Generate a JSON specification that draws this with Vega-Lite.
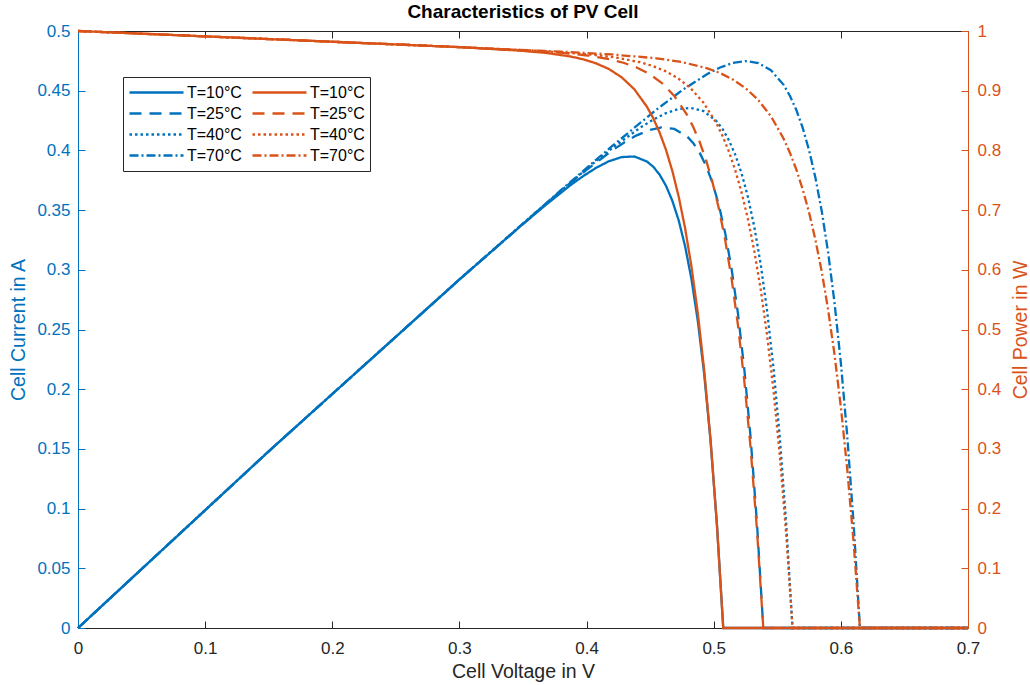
{
  "$schema": "https://vega.github.io/schema/vega-lite/v6.json",
  "width": 890,
  "height": 597,
  "autosize": {"type": "none"},
  "padding": {"left": 78, "top": 31, "right": 62, "bottom": 57},
  "background": "white",
  "title": {"text": "Characteristics of PV Cell", "fontSize": 19, "fontWeight": "bold", "font": "Liberation Sans", "color": "#000000", "anchor": "middle", "offset": 0},
  "config": {
    "view": {"stroke": null},
    "font": "Liberation Sans",
    "axis": {"grid": false, "labelFontSize": 17, "titleFontSize": 19.5, "titleFontWeight": "normal", "tickSize": -7, "tickWidth": 1, "domainWidth": 1, "labelFlush": false, "labelOverlap": false, "labelFont": "Liberation Sans", "titleFont": "Liberation Sans"}
  },
  "datasets": {
    "pw": [
      {"v":0,"y":0,"s":"a10"},{"v":0.15,"y":0.148,"s":"a10"},{"v":0.3,"y":0.2919,"s":"a10"},{"v":0.3475,"y":0.3361,"s":"a10"},{"v":0.3675,"y":0.354,"s":"a10"},{"v":0.3875,"y":0.371,"s":"a10"},{"v":0.3975,"y":0.3786,"s":"a10"},{"v":0.4075,"y":0.3854,"s":"a10"},{"v":0.4175,"y":0.3909,"s":"a10"},{"v":0.4275,"y":0.3944,"s":"a10"},{"v":0.4375,"y":0.3949,"s":"a10"},{"v":0.4475,"y":0.3907,"s":"a10"},{"v":0.4525,"y":0.3863,"s":"a10"},{"v":0.4575,"y":0.3796,"s":"a10"},{"v":0.4625,"y":0.3703,"s":"a10"},{"v":0.4675,"y":0.3577,"s":"a10"},{"v":0.4725,"y":0.3412,"s":"a10"},{"v":0.4775,"y":0.3197,"s":"a10"},{"v":0.4825,"y":0.2922,"s":"a10"},{"v":0.4875,"y":0.2571,"s":"a10"},{"v":0.4925,"y":0.2128,"s":"a10"},{"v":0.4975,"y":0.157,"s":"a10"},{"v":0.5025,"y":0.0872,"s":"a10"},{"v":0.5075,"y":0,"s":"a10"},{"v":0.7,"y":0,"s":"a10"},
      {"v":0,"y":0,"s":"a25"},{"v":0.15,"y":0.148,"s":"a25"},{"v":0.3,"y":0.2919,"s":"a25"},{"v":0.379,"y":0.3652,"s":"a25"},{"v":0.399,"y":0.3828,"s":"a25"},{"v":0.419,"y":0.3991,"s":"a25"},{"v":0.429,"y":0.4062,"s":"a25"},{"v":0.439,"y":0.4124,"s":"a25"},{"v":0.449,"y":0.4169,"s":"a25"},{"v":0.459,"y":0.4192,"s":"a25"},{"v":0.469,"y":0.418,"s":"a25"},{"v":0.479,"y":0.4118,"s":"a25"},{"v":0.484,"y":0.406,"s":"a25"},{"v":0.489,"y":0.3979,"s":"a25"},{"v":0.494,"y":0.3871,"s":"a25"},{"v":0.499,"y":0.3729,"s":"a25"},{"v":0.504,"y":0.3544,"s":"a25"},{"v":0.509,"y":0.3309,"s":"a25"},{"v":0.514,"y":0.3012,"s":"a25"},{"v":0.519,"y":0.2639,"s":"a25"},{"v":0.524,"y":0.2174,"s":"a25"},{"v":0.529,"y":0.1597,"s":"a25"},{"v":0.534,"y":0.0882,"s":"a25"},{"v":0.539,"y":0,"s":"a25"},{"v":0.7,"y":0,"s":"a25"},
      {"v":0,"y":0,"s":"a40"},{"v":0.15,"y":0.148,"s":"a40"},{"v":0.3,"y":0.2919,"s":"a40"},{"v":0.36,"y":0.3481,"s":"a40"},{"v":0.402,"y":0.3863,"s":"a40"},{"v":0.422,"y":0.4034,"s":"a40"},{"v":0.442,"y":0.4189,"s":"a40"},{"v":0.452,"y":0.4255,"s":"a40"},{"v":0.462,"y":0.431,"s":"a40"},{"v":0.472,"y":0.4346,"s":"a40"},{"v":0.482,"y":0.4356,"s":"a40"},{"v":0.492,"y":0.4329,"s":"a40"},{"v":0.502,"y":0.4247,"s":"a40"},{"v":0.507,"y":0.4178,"s":"a40"},{"v":0.512,"y":0.4084,"s":"a40"},{"v":0.517,"y":0.3963,"s":"a40"},{"v":0.522,"y":0.3805,"s":"a40"},{"v":0.527,"y":0.3606,"s":"a40"},{"v":0.532,"y":0.3355,"s":"a40"},{"v":0.537,"y":0.3043,"s":"a40"},{"v":0.542,"y":0.2656,"s":"a40"},{"v":0.547,"y":0.2179,"s":"a40"},{"v":0.552,"y":0.1593,"s":"a40"},{"v":0.557,"y":0.0876,"s":"a40"},{"v":0.562,"y":0,"s":"a40"},{"v":0.7,"y":0,"s":"a40"},
      {"v":0,"y":0,"s":"a70"},{"v":0.15,"y":0.148,"s":"a70"},{"v":0.3,"y":0.2919,"s":"a70"},{"v":0.38,"y":0.3669,"s":"a70"},{"v":0.42,"y":0.4035,"s":"a70"},{"v":0.455,"y":0.4342,"s":"a70"},{"v":0.475,"y":0.4503,"s":"a70"},{"v":0.495,"y":0.464,"s":"a70"},{"v":0.505,"y":0.4694,"s":"a70"},{"v":0.515,"y":0.4732,"s":"a70"},{"v":0.525,"y":0.4748,"s":"a70"},{"v":0.535,"y":0.4732,"s":"a70"},{"v":0.545,"y":0.4672,"s":"a70"},{"v":0.555,"y":0.4549,"s":"a70"},{"v":0.56,"y":0.4456,"s":"a70"},{"v":0.565,"y":0.4338,"s":"a70"},{"v":0.57,"y":0.4188,"s":"a70"},{"v":0.575,"y":0.4002,"s":"a70"},{"v":0.58,"y":0.3771,"s":"a70"},{"v":0.585,"y":0.3489,"s":"a70"},{"v":0.59,"y":0.3145,"s":"a70"},{"v":0.595,"y":0.2726,"s":"a70"},{"v":0.6,"y":0.2221,"s":"a70"},{"v":0.605,"y":0.1612,"s":"a70"},{"v":0.61,"y":0.0879,"s":"a70"},{"v":0.615,"y":0,"s":"a70"},{"v":0.7,"y":0,"s":"a70"}
    ],
    "cur": [
      {"v":0,"y":1,"s":"b10"},{"v":0.15,"y":0.9865,"s":"b10"},{"v":0.3,"y":0.973,"s":"b10"},{"v":0.3475,"y":0.9671,"s":"b10"},{"v":0.3675,"y":0.9634,"s":"b10"},{"v":0.3875,"y":0.9573,"s":"b10"},{"v":0.3975,"y":0.9525,"s":"b10"},{"v":0.4075,"y":0.9458,"s":"b10"},{"v":0.4175,"y":0.9364,"s":"b10"},{"v":0.4275,"y":0.9226,"s":"b10"},{"v":0.4375,"y":0.9026,"s":"b10"},{"v":0.4475,"y":0.8731,"s":"b10"},{"v":0.4525,"y":0.8536,"s":"b10"},{"v":0.4575,"y":0.8297,"s":"b10"},{"v":0.4625,"y":0.8007,"s":"b10"},{"v":0.4675,"y":0.7652,"s":"b10"},{"v":0.4725,"y":0.7222,"s":"b10"},{"v":0.4775,"y":0.6696,"s":"b10"},{"v":0.4825,"y":0.6055,"s":"b10"},{"v":0.4875,"y":0.5273,"s":"b10"},{"v":0.4925,"y":0.432,"s":"b10"},{"v":0.4975,"y":0.3155,"s":"b10"},{"v":0.5025,"y":0.1735,"s":"b10"},{"v":0.5075,"y":0,"s":"b10"},{"v":0.7,"y":0,"s":"b10"},
      {"v":0,"y":1,"s":"b25"},{"v":0.15,"y":0.9865,"s":"b25"},{"v":0.3,"y":0.973,"s":"b25"},{"v":0.379,"y":0.9637,"s":"b25"},{"v":0.399,"y":0.9594,"s":"b25"},{"v":0.419,"y":0.9524,"s":"b25"},{"v":0.429,"y":0.9468,"s":"b25"},{"v":0.439,"y":0.9393,"s":"b25"},{"v":0.449,"y":0.9286,"s":"b25"},{"v":0.459,"y":0.9133,"s":"b25"},{"v":0.469,"y":0.8913,"s":"b25"},{"v":0.479,"y":0.8597,"s":"b25"},{"v":0.484,"y":0.8388,"s":"b25"},{"v":0.489,"y":0.8138,"s":"b25"},{"v":0.494,"y":0.7836,"s":"b25"},{"v":0.499,"y":0.7472,"s":"b25"},{"v":0.504,"y":0.7031,"s":"b25"},{"v":0.509,"y":0.6501,"s":"b25"},{"v":0.514,"y":0.5859,"s":"b25"},{"v":0.519,"y":0.5085,"s":"b25"},{"v":0.524,"y":0.4149,"s":"b25"},{"v":0.529,"y":0.3019,"s":"b25"},{"v":0.534,"y":0.1651,"s":"b25"},{"v":0.539,"y":0,"s":"b25"},{"v":0.7,"y":0,"s":"b25"},
      {"v":0,"y":1,"s":"b40"},{"v":0.15,"y":0.9865,"s":"b40"},{"v":0.3,"y":0.973,"s":"b40"},{"v":0.36,"y":0.967,"s":"b40"},{"v":0.402,"y":0.9609,"s":"b40"},{"v":0.422,"y":0.9559,"s":"b40"},{"v":0.442,"y":0.9477,"s":"b40"},{"v":0.452,"y":0.9414,"s":"b40"},{"v":0.462,"y":0.9328,"s":"b40"},{"v":0.472,"y":0.9207,"s":"b40"},{"v":0.482,"y":0.9037,"s":"b40"},{"v":0.492,"y":0.8798,"s":"b40"},{"v":0.502,"y":0.846,"s":"b40"},{"v":0.507,"y":0.824,"s":"b40"},{"v":0.512,"y":0.7977,"s":"b40"},{"v":0.517,"y":0.7665,"s":"b40"},{"v":0.522,"y":0.7289,"s":"b40"},{"v":0.527,"y":0.6842,"s":"b40"},{"v":0.532,"y":0.6306,"s":"b40"},{"v":0.537,"y":0.5666,"s":"b40"},{"v":0.542,"y":0.49,"s":"b40"},{"v":0.547,"y":0.3983,"s":"b40"},{"v":0.552,"y":0.2886,"s":"b40"},{"v":0.557,"y":0.1572,"s":"b40"},{"v":0.562,"y":0,"s":"b40"},{"v":0.7,"y":0,"s":"b40"},
      {"v":0,"y":1,"s":"b70"},{"v":0.15,"y":0.9865,"s":"b70"},{"v":0.3,"y":0.973,"s":"b70"},{"v":0.38,"y":0.9654,"s":"b70"},{"v":0.42,"y":0.9607,"s":"b70"},{"v":0.455,"y":0.9543,"s":"b70"},{"v":0.475,"y":0.948,"s":"b70"},{"v":0.495,"y":0.9375,"s":"b70"},{"v":0.505,"y":0.9296,"s":"b70"},{"v":0.515,"y":0.9188,"s":"b70"},{"v":0.525,"y":0.9043,"s":"b70"},{"v":0.535,"y":0.8845,"s":"b70"},{"v":0.545,"y":0.8572,"s":"b70"},{"v":0.555,"y":0.8196,"s":"b70"},{"v":0.56,"y":0.7958,"s":"b70"},{"v":0.565,"y":0.7678,"s":"b70"},{"v":0.57,"y":0.7347,"s":"b70"},{"v":0.575,"y":0.696,"s":"b70"},{"v":0.58,"y":0.6501,"s":"b70"},{"v":0.585,"y":0.5964,"s":"b70"},{"v":0.59,"y":0.533,"s":"b70"},{"v":0.595,"y":0.4582,"s":"b70"},{"v":0.6,"y":0.3701,"s":"b70"},{"v":0.605,"y":0.2665,"s":"b70"},{"v":0.61,"y":0.1441,"s":"b70"},{"v":0.615,"y":0,"s":"b70"},{"v":0.7,"y":0,"s":"b70"}
    ]
  },
  "layer": [
    {
      "data": {"name": "pw"},
      "mark": {"type": "line", "strokeWidth": 2.3, "strokeCap": "butt"},
      "encoding": {
        "x": {"field": "v", "type": "quantitative", "scale": {"domain": [0, 0.7], "nice": false, "zero": false},
          "axis": {"orient": "bottom", "values": [0,0.1,0.2,0.3,0.4,0.5,0.6,0.7], "format": ".1~f", "title": "Cell Voltage in V", "domainColor": "#262626", "tickColor": "#262626", "labelColor": "#262626", "titleColor": "#262626", "labelPadding": 19, "titleY": 43, "titleBaseline": "middle"}},
        "y": {"field": "y", "type": "quantitative", "scale": {"domain": [0, 0.5], "nice": false},
          "axis": {"orient": "left", "values": [0,0.05,0.1,0.15,0.2,0.25,0.3,0.35,0.4,0.45,0.5], "format": ".2~f", "title": "Cell Current in A", "domainColor": "#0072BD", "tickColor": "#0072BD", "labelColor": "#0072BD", "titleColor": "#0072BD", "labelPadding": 15, "titleX": -60, "titleY": 298.5, "titleAngle": 270, "titleBaseline": "middle", "titleAlign": "center"}},
        "color": {"field": "s", "type": "nominal",
          "scale": {"domain": ["a10","a25","a40","a70","b10","b25","b40","b70"], "range": ["#0072BD","#0072BD","#0072BD","#0072BD","#D95319","#D95319","#D95319","#D95319"]},
          "legend": {"title": null, "orient": "none", "legendX": 45, "legendY": 46, "columns": 2, "symbolType": "stroke", "symbolSize": 2916, "symbolStrokeWidth": 2.3, "clipHeight": 21, "labelFontSize": 16, "labelFont": "Liberation Sans", "labelColor": "#000000", "labelOffset": 2, "padding": 5, "rowPadding": 0, "columnPadding": 9, "strokeColor": "#262626", "fillColor": "white", "labelExpr": "'T=' + substring(datum.label, 1) + '°C'"}},
        "strokeDash": {"field": "s", "type": "nominal",
          "scale": {"domain": ["a10","a25","a40","a70","b10","b25","b40","b70"], "range": [[1,0],[12,8],[2.5,3],[9,3,2,3],[1,0],[12,8],[2.5,3],[9,3,2,3]]},
          "legend": {"title": null, "orient": "none", "legendX": 45, "legendY": 46, "columns": 2, "symbolType": "stroke", "symbolSize": 2916, "symbolStrokeWidth": 2.3, "clipHeight": 21, "labelFontSize": 16, "labelFont": "Liberation Sans", "labelColor": "#000000", "labelOffset": 2, "padding": 5, "rowPadding": 0, "columnPadding": 9, "strokeColor": "#262626", "fillColor": "white", "labelExpr": "'T=' + substring(datum.label, 1) + '°C'"}}
      }
    },
    {
      "data": {"name": "cur"},
      "mark": {"type": "line", "strokeWidth": 2.3, "strokeCap": "butt"},
      "encoding": {
        "x": {"field": "v", "type": "quantitative", "scale": {"domain": [0, 0.7], "nice": false, "zero": false},
          "axis": {"orient": "top", "values": [0,0.1,0.2,0.3,0.4,0.5,0.6,0.7], "labels": false, "title": null, "domainColor": "#262626", "tickColor": "#262626"}},
        "y": {"field": "y", "type": "quantitative", "scale": {"domain": [0, 1], "nice": false},
          "axis": {"orient": "right", "values": [0,0.1,0.2,0.3,0.4,0.5,0.6,0.7,0.8,0.9,1], "format": ".1~f", "title": "Cell Power in W", "domainColor": "#D95319", "tickColor": "#D95319", "labelColor": "#D95319", "titleColor": "#D95319", "labelPadding": 16, "titleX": 52, "titleY": 298.5, "titleAngle": 270, "titleBaseline": "middle", "titleAlign": "center"}},
        "color": {"field": "s", "type": "nominal",
          "scale": {"domain": ["a10","a25","a40","a70","b10","b25","b40","b70"], "range": ["#0072BD","#0072BD","#0072BD","#0072BD","#D95319","#D95319","#D95319","#D95319"]},
          "legend": {"title": null, "orient": "none", "legendX": 45, "legendY": 46, "columns": 2, "symbolType": "stroke", "symbolSize": 2916, "symbolStrokeWidth": 2.3, "clipHeight": 21, "labelFontSize": 16, "labelFont": "Liberation Sans", "labelColor": "#000000", "labelOffset": 2, "padding": 5, "rowPadding": 0, "columnPadding": 9, "strokeColor": "#262626", "fillColor": "white", "labelExpr": "'T=' + substring(datum.label, 1) + '°C'"}},
        "strokeDash": {"field": "s", "type": "nominal",
          "scale": {"domain": ["a10","a25","a40","a70","b10","b25","b40","b70"], "range": [[1,0],[12,8],[2.5,3],[9,3,2,3],[1,0],[12,8],[2.5,3],[9,3,2,3]]},
          "legend": {"title": null, "orient": "none", "legendX": 45, "legendY": 46, "columns": 2, "symbolType": "stroke", "symbolSize": 2916, "symbolStrokeWidth": 2.3, "clipHeight": 21, "labelFontSize": 16, "labelFont": "Liberation Sans", "labelColor": "#000000", "labelOffset": 2, "padding": 5, "rowPadding": 0, "columnPadding": 9, "strokeColor": "#262626", "fillColor": "white", "labelExpr": "'T=' + substring(datum.label, 1) + '°C'"}}
      }
    }
  ],
  "resolve": {"scale": {"y": "independent"}, "axis": {"x": "independent", "y": "independent"}}
}
